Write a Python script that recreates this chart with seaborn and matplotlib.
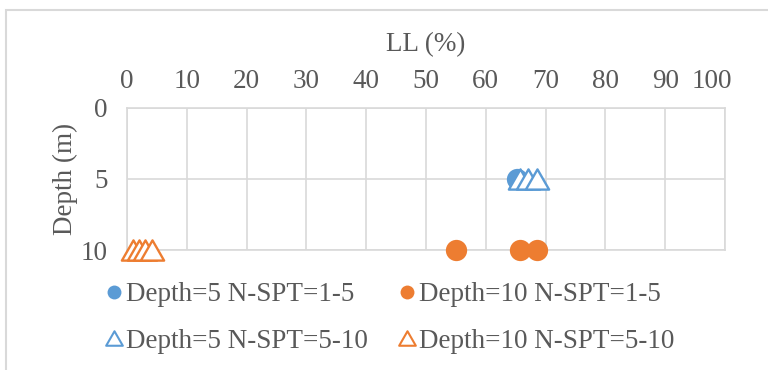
import matplotlib
matplotlib.use("Agg")
import matplotlib.pyplot as plt
from matplotlib.lines import Line2D
from matplotlib.patches import Rectangle
from matplotlib.path import Path
from matplotlib.transforms import ScaledTranslation
import seaborn as sns
import pandas as pd

# Liquid limit (%) readings by depth and N-SPT range
ll_d5_spt1_5 = [65.3]
ll_d10_spt1_5 = [55.1, 65.7, 68.5]
ll_d5_spt5_10 = [65.7, 67.1, 68.6]
ll_d10_spt5_10 = [1.0, 2.0, 3.0, 4.2]

depth_5 = 5
depth_10 = 10

series_labels = [
    "Depth=5 N-SPT=1-5",
    "Depth=10 N-SPT=1-5",
    "Depth=5 N-SPT=5-10",
    "Depth=10 N-SPT=5-10",
]
x_ticks = [0, 10, 20, 30, 40, 50, 60, 70, 80, 90, 100]
y_ticks = [0, 5, 10]

BLUE = "#5B9BD5"
ORANGE = "#ED7D31"
TEXT = "#595959"
GRID = "#D9D9D9"

sns.set_theme(style="white")
plt.rcParams["font.family"] = ["Liberation Serif", "DejaVu Serif"]
FS = 19.5

frames = [
    pd.DataFrame({"LL": ll_d5_spt1_5, "Depth": depth_5, "series": series_labels[0]}),
    pd.DataFrame({"LL": ll_d10_spt1_5, "Depth": depth_10, "series": series_labels[1]}),
    pd.DataFrame({"LL": ll_d5_spt5_10, "Depth": depth_5, "series": series_labels[2]}),
    pd.DataFrame({"LL": ll_d10_spt5_10, "Depth": depth_10, "series": series_labels[3]}),
]

# closed, slightly flattened triangle marker
tri = Path([(-1, -0.87), (1, -0.87), (0, 0.87), (-1, -0.87)],
           [Path.MOVETO, Path.LINETO, Path.LINETO, Path.CLOSEPOLY])

fig = plt.figure(figsize=(7.68, 3.70), dpi=100)
ax = fig.add_axes([127 / 768, 1 - 250 / 370, (725 - 127) / 768, (250 - 108) / 370])

# filled circles
for df, col in [(frames[0], BLUE), (frames[1], ORANGE)]:
    sns.scatterplot(data=df, x="LL", y="Depth", ax=ax, color=col, s=235,
                    marker="o", linewidth=0, legend=False, zorder=3,
                    clip_on=False)

# hollow triangles, drawn one at a time so later points overlap earlier ones
for df, col in [(frames[2], BLUE), (frames[3], ORANGE)]:
    for i in range(len(df)):
        sns.scatterplot(data=df.iloc[[i]], x="LL", y="Depth", ax=ax,
                        facecolor="white", edgecolor=col, s=280, marker=tri,
                        linewidth=1.7, legend=False, zorder=4, clip_on=False)

ax.set_xlim(0, 100)
ax.set_ylim(10, 0)
ax.set_xticks(x_ticks)
ax.set_yticks(y_ticks)
ax.xaxis.tick_top()
ax.xaxis.set_label_position("top")
ax.tick_params(axis="both", length=0, labelsize=FS, labelcolor=TEXT)
ax.tick_params(axis="x", pad=10)
ax.tick_params(axis="y", pad=14)
ax.set_xlabel("LL (%)", fontsize=FS, color=TEXT)
ax.xaxis.set_label_coords(0.5, (250 - 45) / 142)
ax.xaxis.label.set_va("center")
ax.set_ylabel("Depth (m)", fontsize=FS, color=TEXT, labelpad=2)
ax.grid(True, color=GRID, linewidth=1.2)
ax.set_axisbelow(True)
for sp in ax.spines.values():
    sp.set_color(GRID)
    sp.set_linewidth(1.2)

# last x label sits a little inward
last = ax.get_xticklabels()[-1]
last.set_transform(last.get_transform() + ScaledTranslation(-13 / 100, 0, fig.dpi_scale_trans))

handles = [
    Line2D([], [], linestyle="none", marker="o", markersize=10,
           markerfacecolor=BLUE, markeredgewidth=0),
    Line2D([], [], linestyle="none", marker="o", markersize=10,
           markerfacecolor=ORANGE, markeredgewidth=0),
    Line2D([], [], linestyle="none", marker=tri, markersize=12,
           markerfacecolor="white", markeredgecolor=BLUE, markeredgewidth=1.5),
    Line2D([], [], linestyle="none", marker=tri, markersize=12,
           markerfacecolor="white", markeredgecolor=ORANGE, markeredgewidth=1.5),
]
order = [0, 2, 1, 3]
leg = fig.legend([handles[i] for i in order], [series_labels[i] for i in order],
                 ncol=2, frameon=False,
                 loc="center", bbox_to_anchor=(390 / 768, 1 - 318 / 370),
                 fontsize=FS, handlelength=0.6, handletextpad=0.15,
                 columnspacing=1.15, labelspacing=0.78, borderaxespad=0)
for t in leg.get_texts():
    t.set_color(TEXT)

# chart area border
fig.patches.append(Rectangle((6 / 768, -0.1), 1.2, 1.1 - 10 / 370,
                             transform=fig.transFigure, fill=False,
                             edgecolor=GRID, linewidth=1.5))

fig.savefig("out.png", dpi=100)
